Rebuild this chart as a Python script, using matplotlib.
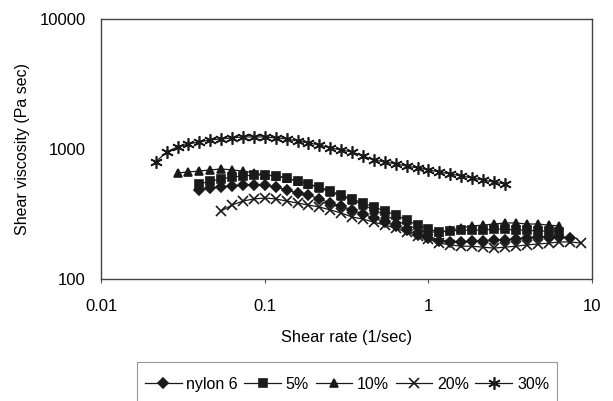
import matplotlib.pyplot as plt
from matplotlib.patches import Rectangle

plt.rcParams['font.family'] = ['Liberation Sans', 'DejaVu Sans']

# shear rate grid (1/sec), 15 points per decade
rate = [0.02154, 0.02512, 0.02929, 0.03415, 0.03981, 0.04642, 0.05412, 0.06310,
        0.07356, 0.08577, 0.1, 0.1166, 0.1359, 0.1585, 0.1848, 0.2154, 0.2512,
        0.2929, 0.3415, 0.3981, 0.4642, 0.5412, 0.6310, 0.7356, 0.8577, 1.0,
        1.166, 1.359, 1.585, 1.848, 2.154, 2.512, 2.929, 3.415, 3.981, 4.642,
        5.412, 6.310, 7.356, 8.577]

# viscosities (Pa sec), each series starts/ends at a different point of the grid
nylon6_x = rate[4:39]
nylon6 = [484, 501, 510, 519, 529, 529, 529, 510, 484, 459, 443, 413, 384, 364,
          340, 316, 295, 274, 256, 238, 218, 207, 196, 193, 193, 196, 196, 200,
          200, 203, 207, 210, 210, 210, 207]

pct5_x = rate[4:38]
pct5 = [538, 567, 588, 609, 620, 631, 631, 620, 598, 567, 538, 510, 475, 443,
        413, 384, 358, 334, 311, 284, 260, 242, 230, 234, 238, 238, 238, 242,
        242, 238, 238, 234, 234, 230]

pct10_x = rate[2:38]
pct10 = [654, 666, 677, 690, 702, 690, 677, 654, 631, 620, 598, 567, 538, 501,
         467, 435, 405, 371, 340, 311, 284, 260, 242, 230, 230, 238, 247, 256,
         260, 265, 270, 270, 265, 265, 260, 256]

pct20_x = rate[6:40]
pct20 = [334, 371, 398, 413, 420, 413, 398, 384, 371, 358, 340, 322, 300, 289,
         274, 260, 247, 230, 214, 203, 189, 183, 179, 179, 176, 173, 176, 179,
         183, 186, 189, 193, 193, 189]

pct30_x = rate[0:33]
pct30 = [794, 948, 1036, 1093, 1132, 1173, 1194, 1215, 1237, 1237, 1237, 1215,
         1194, 1152, 1112, 1074, 1018, 982, 948, 884, 823, 794, 767, 740, 714,
         690, 666, 642, 620, 598, 577, 557, 538]

series = [
    ("nylon 6", nylon6_x, nylon6, "D", 5),
    ("5%", pct5_x, pct5, "s", 5.5),
    ("10%", pct10_x, pct10, "^", 6),
    ("20%", pct20_x, pct20, "x", 7),
    ("30%", pct30_x, pct30, (6, 2, 0), 9),
]

fig = plt.figure(figsize=(6.13, 4.01), dpi=100)
ax = fig.add_axes([0.165, 0.304, 0.801, 0.649])

for name, xs, ys, mk, ms in series:
    ax.plot(xs, ys, color="#1a1a1a", lw=0.9, marker=mk, markersize=ms,
            markeredgewidth=1.2, markerfacecolor="#1a1a1a",
            markeredgecolor="#1a1a1a", label=name)

ax.set_xscale("log")
ax.set_yscale("log")
ax.set_xlim(0.01, 10)
ax.set_ylim(100, 10000)
ax.set_xticks([0.01, 0.1, 1, 10])
ax.set_xticklabels(["0.01", "0.1", "1", "10"])
ax.set_yticks([100, 1000, 10000])
ax.set_yticklabels(["100", "1000", "10000"])
ax.minorticks_off()
ax.tick_params(axis="x", length=3, width=0.8, color="#555555",
               labelsize=12, pad=11)
ax.tick_params(axis="y", length=0, labelsize=12, pad=11)
for sp in ax.spines.values():
    sp.set_color("#444444")
    sp.set_linewidth(1.0)

ax.set_xlabel("Shear rate (1/sec)", fontsize=11.8, labelpad=12)
ax.set_ylabel("Shear viscosity (Pa sec)", fontsize=11.5, labelpad=7)

leg = fig.legend(loc="center", bbox_to_anchor=(0.566, 0.042), ncol=5,
                 frameon=False, fontsize=11.5, handlelength=2.3,
                 handletextpad=0.3, columnspacing=0.4, borderaxespad=0)

# open-bottomed legend frame (cropped by the figure edge in the original)
fig.add_artist(Rectangle((0.2235, -0.05), 0.685, 0.1473,
                         transform=fig.transFigure, fill=False,
                         edgecolor="#999999", linewidth=0.8))

fig.savefig("out.png", dpi=100)
